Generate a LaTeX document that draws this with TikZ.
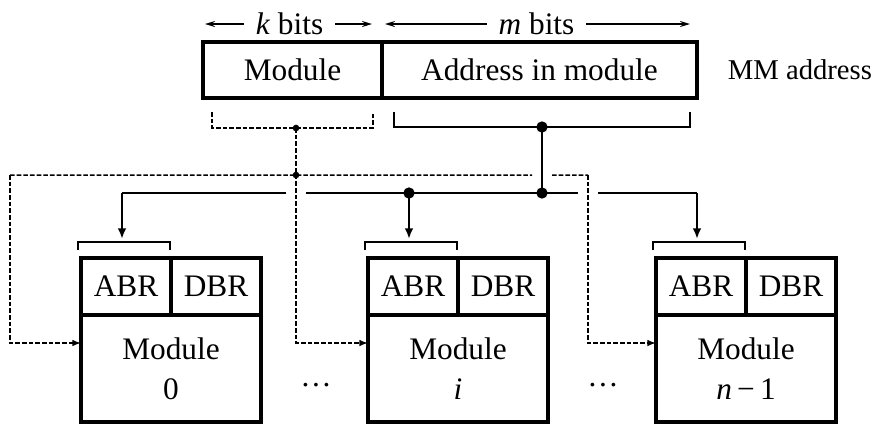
\documentclass[tikz,border=0pt]{standalone}
\usepackage{fontspec}
\setmainfont{Liberation Serif}
\usetikzlibrary{positioning,arrows.meta,calc}

\begin{document}
\begin{tikzpicture}[x=0.3pt, y=-0.3pt, font=\fontsize{9.4}{10}\selectfont,
  fld/.style={draw, line width=1pt, inner sep=0pt, outer sep=0pt, minimum height=16.8pt},
  reg/.style={draw, line width=1pt, inner sep=0pt, outer sep=0pt, minimum width=27pt, minimum height=17.1pt},
  mem/.style={draw, line width=1pt, inner sep=0pt, outer sep=0pt, minimum width=54pt, minimum height=32.1pt, align=center},
  bus/.style={line width=0.8pt},
  dsh/.style={line width=0.45pt, dash pattern=on 1.4pt off 0.6pt},
  brk/.style={line width=0.6pt},
  stip/.style={-{Latex[length=3.2pt,width=2.6pt]}},
  dtip/.style={-{Latex[length=2.6pt,width=2pt]}},
  dim/.style={line width=0.6pt, -{Stealth[length=3pt,width=1.8pt]}}]
\useasboundingbox (0,0) rectangle (878,431);
% MM address register
\node[fld, minimum width=53.7pt] (mod) at (292.5,70) {Module};
\node[fld, minimum width=94.5pt, right=0pt of mod] (addr) {Address in module};
\node[anchor=east, inner sep=1pt, font=\fontsize{8.6}{10}\selectfont] (mma) at (876,70) {MM address};
\node (kbits) at ($(mod.north)+(-3,-18)$) {\textit{k} bits};
\node (mbits) at ($(addr.north)+(-3,-18)$) {\textit{m} bits};
\draw[dim] (kbits.west) -- ($(mod.north west)+(2,-18)$);
\draw[dim] (kbits.east) -- ($(mod.north east)+(-10,-18)$);
\draw[dim] (mbits.west) -- ($(addr.north west)+(3,-18)$);
\draw[dim] (mbits.east) -- ($(addr.north east)+(-7,-18)$);
% field brackets
\draw[dsh] ($(mod.south west)+(9,14)$) -- ++(0,16) -| ($(mod.south east)+(-9,14)$);
\draw[brk] ($(addr.south west)+(12,14)$) -- ++(0,15) -| ($(addr.south east)+(-7,14)$);
\coordinate (kd) at ($(mod.south)+(3.5,30)$);
\coordinate (ad) at ($(addr.south)+(2.5,29)$);
\coordinate (kj) at ($(kd)+(0,47)$);
\coordinate (aj) at ($(ad)+(0,66)$);
\coordinate (lj) at (10,175);
\coordinate (rj) at (588,175);
% memory modules
\foreach \x/\nm/\lbl in {81/0/0, 368/i/\textit{i}, 656/n/\textit{n}\,−\,1} {
  \node[reg] (abr\nm) at (\x+45,286.5) {ABR};
  \node[reg, right=0pt of abr\nm] (dbr\nm) {DBR};
  \node[mem, anchor=north west] (mem\nm) at (abr\nm.south west) {Module\\[2pt]\lbl};
  \draw[brk] ($(abr\nm.north west)+(-3,-8)$) -- ++(0,-8) -| ($(abr\nm.north east)+(-1,-8)$);
  \coordinate (t\nm) at ($(abr\nm.north west)+(41,-19)$);
  \coordinate (e\nm) at ($(mem\nm.north west)+(0,28)$);
}
\node (dots1) at (316,385) {\dots};
\node (dots2) at (603,385) {\dots};
\coordinate (bl) at (t0|-aj);
\coordinate (br) at (tn|-aj);
% module select (dashed)
\draw[dsh] (lj) -- ($(ad|-kj)+(-10,0)$);
\draw[dsh] ($(ad|-kj)+(10,0)$) -- (rj);
\draw[dsh, dtip] (lj) |- (e0);
\draw[dsh, dtip] (kd) |- (ei);
\draw[dsh, dtip] (rj) |- (en);
% address bus
\draw[bus] (ad) -- (aj);
\draw[bus] (bl) -- ($(kj|-aj)+(-10,0)$);
\draw[bus] ($(kj|-aj)+(10,0)$) -- ($(rj|-aj)+(-10,0)$);
\draw[bus] ($(rj|-aj)+(10,0)$) -- (br);
\draw[bus, stip] (bl) -- (t0);
\draw[bus, stip] (ti|-aj) -- (ti);
\draw[bus, stip] (br) -- (tn);
\fill (ad) circle (1.7pt) (aj) circle (1.7pt) (ti|-aj) circle (1.7pt);
\fill (kd) circle (1pt) (kj) circle (1pt);
\end{tikzpicture}
\end{document}
